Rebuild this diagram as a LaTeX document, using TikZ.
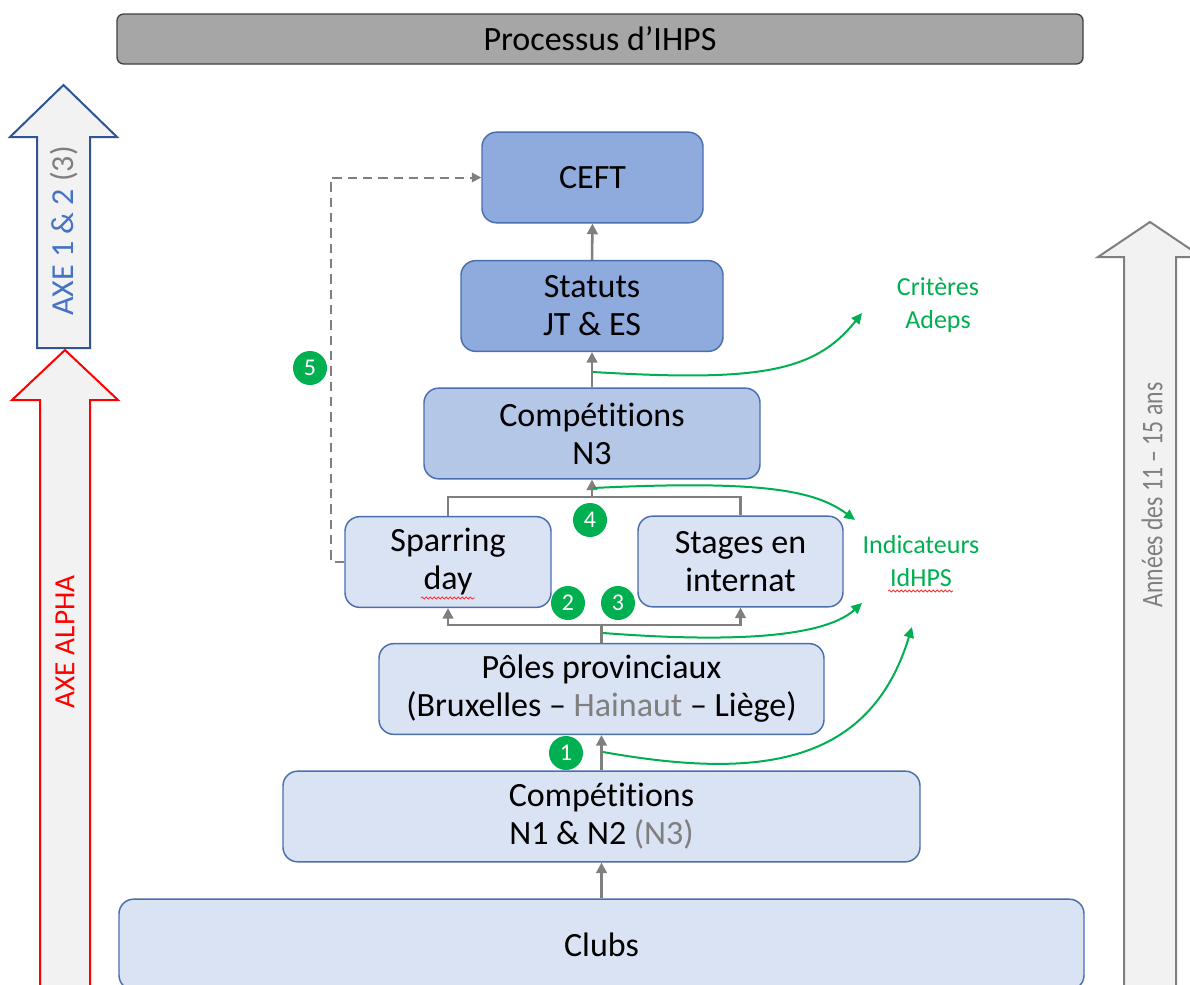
\documentclass[tikz,border=0pt]{standalone}
\usepackage{fontspec}
\setmainfont{Carlito}[Ligatures=NoCommon, Contextuals=NoAlternate]
\usetikzlibrary{arrows.meta}
\usetikzlibrary{shapes}
\usetikzlibrary{decorations.pathmorphing}

\definecolor{boxdark}{HTML}{8FAADC}
\definecolor{boxmid}{HTML}{B4C7E7}
\definecolor{boxlight}{HTML}{DAE3F3}
\definecolor{boxline}{HTML}{4A6FAE}
\definecolor{linkgray}{HTML}{7F7F7F}
\definecolor{idgreen}{HTML}{00B050}
\definecolor{axeblue}{HTML}{4472C4}
\definecolor{axeborder}{HTML}{2F5597}
\definecolor{barfill}{HTML}{A6A6A6}
\definecolor{arrowfill}{HTML}{F2F2F2}

\begin{document}
\begin{tikzpicture}[x = 0.75pt, y = -0.75pt]
\tikzstyle{BoxStyle}=[shape = rectangle,
                      rounded corners = 11pt,
                      draw = boxline,
                      line width = 1.1pt,
                      inner sep = 0pt,
                      align = center,
                      minimum height = 68pt,
                      font = \fontsize{25.5}{28.5}\selectfont]
\tikzstyle{NumStyle}=[shape = circle,
                      fill = idgreen,
                      text = white,
                      minimum size = 25.5pt,
                      inner sep = 0pt,
                      font = \fontsize{18}{18}\selectfont]
\tikzstyle{LinkStyle}=[draw = linkgray, line width = 1.9pt]
\tikzstyle{UpStyle}=[LinkStyle, -{Triangle[length = 8pt, width = 8pt]}]
\tikzstyle{GreenStyle}=[draw = idgreen, line width = 1.5pt,
                        -{Triangle[length = 8pt, width = 7.5pt]}]
\tikzstyle{LabelStyle}=[text = idgreen, align = center,
                        font = \fontsize{19.5}{25}\selectfont]
\tikzstyle{SpellStyle}=[draw = red!80, line width = 0.6pt,
                        decorate, decoration = {snake, amplitude = 0.8pt, segment length = 3pt}]

\clip (0,0) rectangle (1190,985);
\fill[white] (0,0) rectangle (1190,985);

% side arrows
\filldraw[fill = arrowfill, draw = axeborder, line width = 1.5pt]
  (37,348) -- (37,137) -- (10,137) -- (63.5,85) -- (117,137) -- (90,137) -- (90,348) -- cycle;
\filldraw[fill = arrowfill, draw = red, line width = 1.5pt]
  (40,1000) -- (40,400) -- (12,400) -- (65,350) -- (118,400) -- (90,400) -- (90,1000);
\filldraw[fill = arrowfill, draw = linkgray, line width = 1.5pt]
  (1124,1000) -- (1124,257) -- (1098,257) -- (1150,222) -- (1202,257) -- (1176,257) -- (1176,1000);
\node[rotate = 90, font = \fontsize{24}{24}\selectfont] (axe12) at (64,231)
  {\textcolor{axeblue}{AXE 1 \& 2} \textcolor{linkgray}{(3)}};
\node[rotate = 90, text = red, font = \fontsize{22}{22}\selectfont] (alpha) at (65,642) {AXE ALPHA};
\node[rotate = 90, text = linkgray, font = \fontsize{22.5}{22.5}\selectfont] (annees) at (1152,495)
  {\scalebox{0.79}[1]{Années des 11 – 15 ans}};

% title bar
\node[shape = rectangle, rounded corners = 5pt, fill = barfill, draw = black!75, line width = 1pt,
      minimum width = 724.5pt, minimum height = 37.5pt,
      font = \fontsize{25.5}{28.5}\selectfont] (title) at (600,39) {Processus d’IHPS};

% boxes
\node[BoxStyle, fill = boxdark, minimum width = 165.75pt] (ceft) at (592.5,177.5) {CEFT};
\node[BoxStyle, fill = boxdark, minimum width = 196.5pt] (statuts) at (592,306) {Statuts\\JT \& ES};
\node[BoxStyle, fill = boxmid, minimum width = 252pt] (compn3) at (592,433.5) {Compé{}ti{}tions\\N3};
\node[BoxStyle, fill = boxlight, minimum width = 154.5pt] (sparring) at (448,562) {Sparring\\day};
\node[BoxStyle, fill = boxlight, minimum width = 153.75pt] (stages) at (740.5,561.5) {Stages en\\internat};
\node[BoxStyle, fill = boxlight, minimum width = 333.75pt] (poles) at (601.5,689)
  {Pôles provinciaux\\(Bruxelles – \textcolor{linkgray}{Hainaut} – Liège)};
\node[BoxStyle, fill = boxlight, minimum width = 477.75pt] (compn1) at (601.5,816.5)
  {Compé{}ti{}tions\\N1 \& N2 \textcolor{linkgray}{(N3)}};
\node[BoxStyle, fill = boxlight, minimum width = 723.75pt] (clubs) at (601.5,944.5) {Clubs};

% gray links
\coordinate (split) at (601.5,625);
\coordinate (merge) at (592,497);
\draw[UpStyle] (clubs.north) -- (compn1.south);
\draw[UpStyle] (compn1.north) -- (poles.south);
\draw[LinkStyle] (poles.north) -- (split);
\draw[UpStyle] (split) -| (sparring.south);
\draw[UpStyle] (split) -| (stages.south);
\draw[LinkStyle] (sparring.north) |- (merge) -| (stages.north);
\draw[UpStyle] (merge) -- (compn3.south);
\draw[UpStyle] (compn3.north) -- (statuts.south);
\draw[UpStyle] (statuts.north) -- (ceft.south);
\draw[LinkStyle, line width = 1.5pt, dash pattern = on 7pt off 4.5pt,
      -{Triangle[length = 7pt, width = 7pt]}]
  (sparring.west) -- ++(-13,0) |- (ceft.west);

% green labels and curves
\node[LabelStyle] (adeps) at (938,305) {Critères\\Adeps};
\node[LabelStyle] (idhps) at (921,561) {Indicateurs\\IdHPS};
\coordinate (g1) at (603,752);
\coordinate (g2) at (603,633);
\coordinate (g3) at (593,488);
\coordinate (g4) at (593,372);
\coordinate (t1) at (912,627);
\coordinate (t2) at (862,603);
\coordinate (t3) at (855,520);
\coordinate (t4) at (862,313);
\draw[GreenStyle] (g1) .. controls (760,780) and (870,765) .. (t1);
\draw[GreenStyle] (g2) .. controls (760,645) and (830,632) .. (t2);
\draw[GreenStyle] (g3) .. controls (760,480) and (815,490) .. (t3);
\draw[GreenStyle] (g4) .. controls (760,382) and (815,372) .. (t4);

% spell marks
\draw[SpellStyle] (421,598) -- (475,598);
\draw[SpellStyle] (888,591) -- (953,591);

% numbers
\node[NumStyle] (n1) at (566,753) {1};
\node[NumStyle] (n2) at (568,603) {2};
\node[NumStyle] (n3) at (618,603) {3};
\node[NumStyle] (n4) at (590,520) {4};
\node[NumStyle] (n5) at (310,368) {5};
\end{tikzpicture}
\end{document}
